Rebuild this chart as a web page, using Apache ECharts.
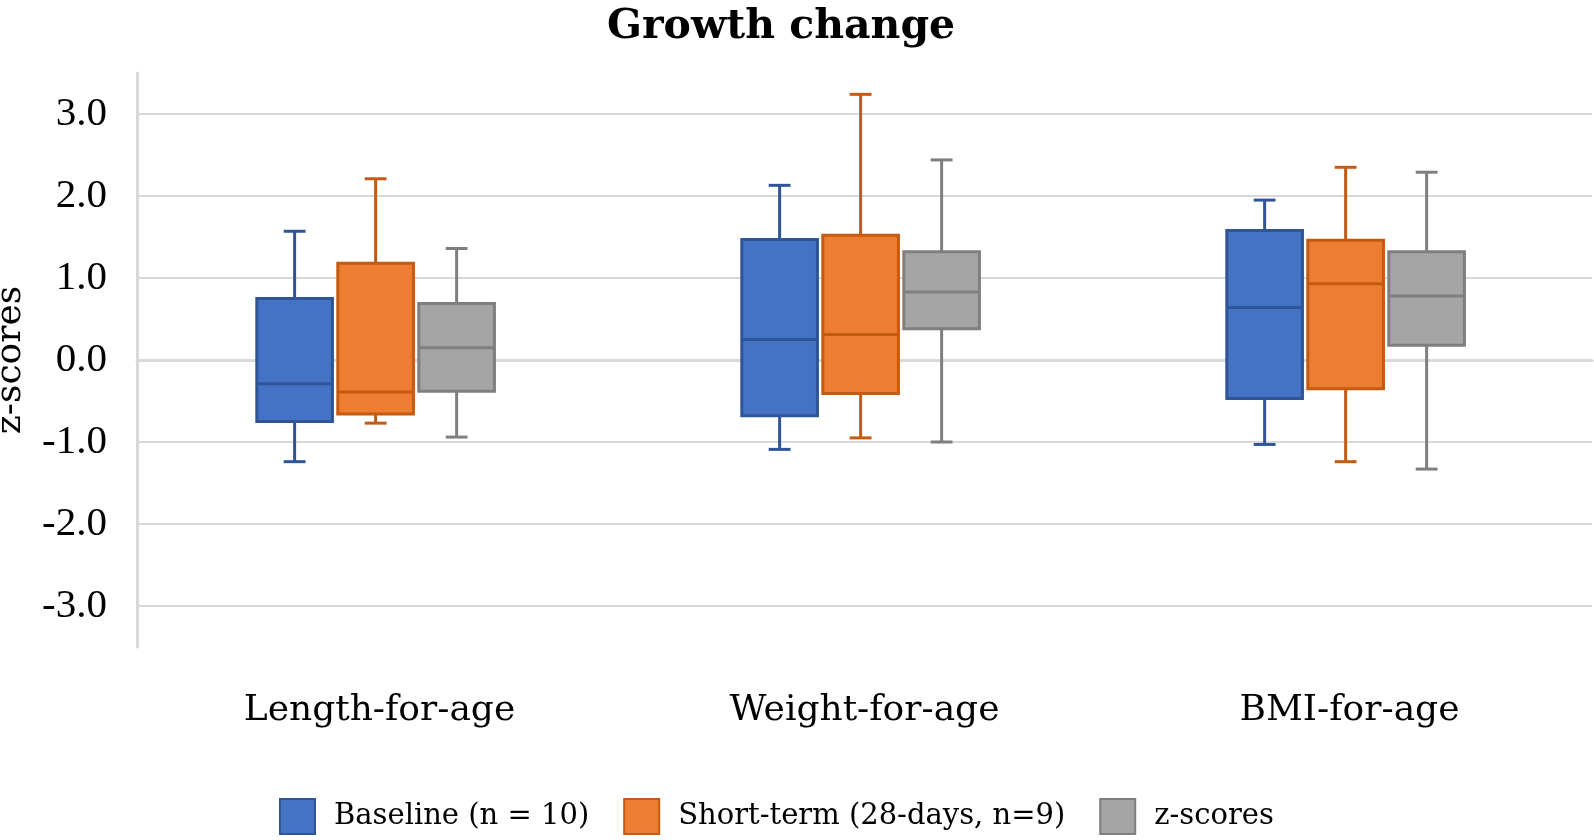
<!DOCTYPE html>
<html>
<head>
<meta charset="utf-8">
<script src="https://cdn.jsdelivr.net/npm/echarts@6/dist/echarts.min.js"></script>
<style>html,body{margin:0;padding:0;background:#fff}#c{width:1594px;height:840px}</style>
</head>
<body>
<div id="c"></div>
<script>
// ---- data (min, Q1, median, Q3, max) ----
const categories = ['Length-for-age', 'Weight-for-age', 'BMI-for-age'];
const seriesNames = ['Baseline (n = 10)', 'Short-term (28-days, n=9)', 'z-scores'];
const baseline  = [[-1.24, -0.75, -0.29, 0.75, 1.57], [-1.09, -0.68, 0.25, 1.47, 2.13], [-1.03, -0.47, 0.64, 1.58, 1.95]];
const shortTerm = [[-0.77, -0.66, -0.39, 1.18, 2.21], [-0.95, -0.41, 0.31, 1.52, 3.24], [-1.24, -0.35, 0.93, 1.46, 2.35]];
const zScores   = [[-0.94, -0.38, 0.15, 0.69, 1.36], [-1.00, 0.38, 0.83, 1.32, 2.44], [-1.33, 0.18, 0.78, 1.32, 2.29]];
const yTicks = [-3, -2, -1, 0, 1, 2, 3];

const fills   = ['#4472C4', '#ED7D31', '#A5A5A5'];
const borders = ['#2F5597', '#C55A11', '#7F7F7F'];
const allData = [baseline, shortTerm, zScores];

function renderBox(params, api) {
  const si = params.seriesIndex;
  const xi = api.value(0);
  const band = api.size([1, 0])[0];
  const cx = api.coord([xi, 0])[0] + (si - 1) * band * 0.167 - band * 0.008;
  const w = band * 0.156;
  const cap = band * 0.045;
  const y = [1, 2, 3, 4, 5].map(k => api.coord([xi, api.value(k)])[1]);
  const stroke = borders[si];
  const ls = { stroke: stroke, lineWidth: 3, fill: null };
  return {
    type: 'group',
    children: [
      { type: 'line', shape: { x1: cx, y1: y[3], x2: cx, y2: y[4] }, style: ls },
      { type: 'line', shape: { x1: cx, y1: y[1], x2: cx, y2: y[0] }, style: ls },
      { type: 'line', shape: { x1: cx - cap / 2, y1: y[4], x2: cx + cap / 2, y2: y[4] }, style: ls },
      { type: 'line', shape: { x1: cx - cap / 2, y1: y[0], x2: cx + cap / 2, y2: y[0] }, style: ls },
      { type: 'rect', shape: { x: cx - w / 2, y: y[3], width: w, height: y[1] - y[3] },
        style: { fill: fills[si], stroke: stroke, lineWidth: 3 } },
      { type: 'line', shape: { x1: cx - w / 2, y1: y[2], x2: cx + w / 2, y2: y[2] }, style: ls }
    ]
  };
}

const chart = echarts.init(document.getElementById('c'));
chart.setOption({
  animation: false,
  backgroundColor: '#fff',
  title: {
    text: 'Growth change', left: 602, top: 2,
    textStyle: { fontFamily: 'DejaVu Serif', fontWeight: 'bold', fontSize: 41, color: '#000' }
  },
  legend: {
    left: 274, top: 793, itemWidth: 35, itemHeight: 35, itemGap: 34, icon: 'rect',
    textStyle: { fontFamily: 'DejaVu Serif', fontSize: 29, color: '#000', padding: [0, 0, 0, 14] },
    data: seriesNames.map((n, i) => ({ name: n, itemStyle: { color: fills[i], borderColor: borders[i], borderWidth: 2 } }))
  },
  grid: { left: 137, right: 2, top: 73, bottom: 193, containLabel: false, outerBoundsMode: 'none' },
  xAxis: {
    type: 'category', data: categories,
    axisLine: { lineStyle: { color: '#d9d9d9', width: 3 } },
    axisTick: { show: false },
    axisLabel: { fontFamily: 'DejaVu Serif', fontSize: 36, color: '#000', margin: 46 },
    splitLine: { show: false }
  },
  yAxis: {
    type: 'value', min: -3.5, max: 3.5, interval: 0.5,
    name: 'z-scores', nameLocation: 'middle', nameGap: 108, nameMoveOverlap: false,
    nameTextStyle: { fontFamily: 'DejaVu Serif', fontSize: 36, color: '#000' },
    axisLine: { show: true, lineStyle: { color: '#d9d9d9', width: 3 } },
    axisTick: { show: false },
    axisLabel: {
      fontFamily: 'Liberation Serif', fontSize: 41, color: '#000', margin: 30,
      formatter: v => (yTicks.indexOf(Math.round(v * 2) / 2) >= 0 ? v.toFixed(1) : '')
    },
    splitLine: { show: true, lineStyle: { color: ['rgba(0,0,0,0)', '#d9d9d9'], width: 2 } }
  },
  series: seriesNames.map((n, i) => ({
    name: n, type: 'custom', renderItem: renderBox,
    itemStyle: { color: fills[i], borderColor: borders[i] },
    encode: { x: 0, y: [1, 2, 3, 4, 5] },
    data: categories.map((c, j) => [j].concat(allData[i][j]))
  }))
});
</script>
</body>
</html>
